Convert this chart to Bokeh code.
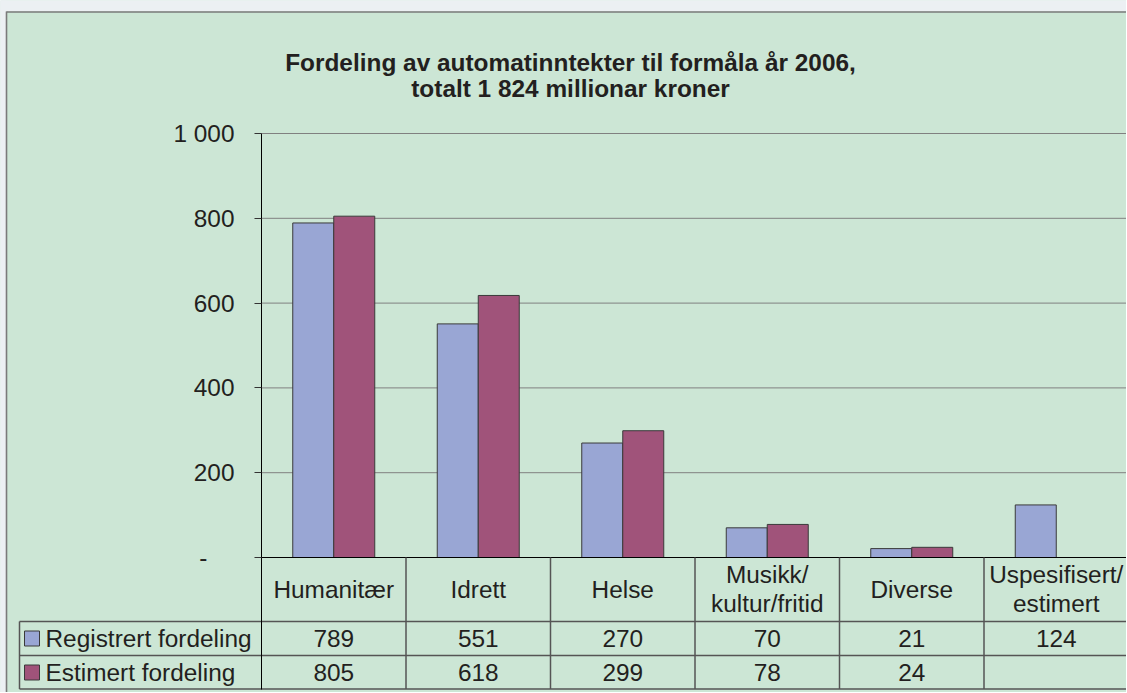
from bokeh.plotting import figure
from bokeh.models import Range1d, FixedTicker, ColumnDataSource
from bokeh.core.properties import value
from bokeh.embed import file_html
from bokeh.resources import INLINE

# ---------------- data ----------------
title_lines = ["Fordeling av automatinntekter til formåla år 2006,",
               "totalt 1 824 millionar kroner"]
categories = ["Humanitær", "Idrett", "Helse", "Musikk/\nkultur/fritid",
              "Diverse", "Uspesifisert/\nestimert"]
series_names = ["Registrert fordeling", "Estimert fordeling"]
registrert = [789, 551, 270, 70, 21, 124]
estimert = [805, 618, 299, 78, 24, None]
y_ticks = [0, 200, 400, 600, 800, 1000]
y_tick_labels = ["-\u2007\u2007", "200", "400", "600", "800", "1 000"]

# ---------------- style ----------------
GREEN = "#CCE6D5"
PAGE = "#ECF0F3"
FRAME = "#7A7A7A"
BLUE = "#99A6D4"
RED = "#A0537A"
TXT = "#231F20"
LINE = "#555555"
FONT = "Liberation Sans"
FS = "24.4px"

PX_X = 144.5      # px per category
PX_Y = 0.424      # px per unit
ZERO = 558        # page y of value zero
AXX = 262         # page x of the value axis
ORG = 1           # page position of the figure origin


def ypx(py):
    return (ZERO - py) / PX_Y


def xpx(px):
    return (px - AXX) / PX_X


W, H = 1127 - ORG, 693 - ORG
p = figure(width=W, height=H,
           x_range=Range1d(xpx(ORG), xpx(1127)),
           y_range=Range1d(ypx(693), ypx(ORG)),
           output_backend="svg", toolbar_location=None,
           x_axis_location=None,
           min_border_left=0, min_border_right=0,
           min_border_top=0, min_border_bottom=0,
           background_fill_color=GREEN, border_fill_color=GREEN,
           outline_line_color=None)

# page strip + outer frame border of the chart box
p.quad(left=[xpx(-5), xpx(-5)], right=[xpx(1140), xpx(7)],
       top=[ypx(-5), ypx(-5)], bottom=[ypx(12), ypx(700)],
       fill_color=PAGE, line_color=None)
p.segment(x0=[xpx(7), xpx(7)], x1=[xpx(1140), xpx(7)],
          y0=[ypx(12.5), ypx(12)], y1=[ypx(12.5), ypx(700)],
          line_color=FRAME, line_width=1.6)

# value axis, drawn at the left edge of the category area
ax = p.yaxis[0]
ax.fixed_location = 0
ax.ticker = FixedTicker(ticks=y_ticks)
ax.major_label_overrides = {t: l for t, l in zip(y_ticks, y_tick_labels)}
ax.bounds = (ypx(690), 1000)
ax.axis_line_color = "black"
ax.axis_line_width = 1
ax.major_tick_out = 7
ax.major_tick_in = 0
ax.minor_tick_out = 0
ax.minor_tick_in = 0
ax.major_tick_line_color = "#333333"
ax.major_label_text_font = FONT
ax.major_label_text_font_size = FS
ax.major_label_text_color = TXT
ax.major_label_standoff = 20

p.xgrid.visible = False
p.ygrid.visible = False

n = len(categories)
right = xpx(1140)

# horizontal gridlines across the category area
gt = y_ticks[1:]
p.segment(x0=[0] * len(gt), x1=[right] * len(gt), y0=gt, y1=gt,
          line_color="#808080", line_width=1)

# bars
bw = 41 / PX_X
src_r = ColumnDataSource(dict(x=[i + 0.5 - bw / 2 for i in range(n)], top=registrert))
est_idx = [i for i in range(n) if estimert[i] is not None]
src_e = ColumnDataSource(dict(x=[i + 0.5 + bw / 2 for i in est_idx],
                              top=[estimert[i] for i in est_idx]))
p.vbar(x="x", top="top", bottom=0, width=bw, source=src_r,
       fill_color=BLUE, line_color="#3A3A3A", line_width=1)
p.vbar(x="x", top="top", bottom=0, width=bw, source=src_e,
       fill_color=RED, line_color="#3A3A3A", line_width=1)

# data table lines
rows_py = [622, 656, 689.5]
p.segment(x0=[xpx(20)] * 3, x1=[right] * 3, y0=[ypx(v) for v in rows_py],
          y1=[ypx(v) for v in rows_py], line_color=LINE, line_width=1.5)
p.segment(x0=[0], x1=[right], y0=[0], y1=[0], line_color="black", line_width=1.2)
p.segment(x0=list(range(1, n)), x1=list(range(1, n)), y0=[0] * (n - 1),
          y1=[ypx(689.5)] * (n - 1), line_color=LINE, line_width=1.5)
p.segment(x0=[xpx(20)], x1=[xpx(20)], y0=[ypx(622)], y1=[ypx(689.5)],
          line_color=LINE, line_width=1.5)

# legend keys inside the table
row_mid = [639, 673]
sw = 15 / 2
p.quad(left=[xpx(25)] * 2, right=[xpx(40)] * 2,
       top=[ypx(m - sw) for m in row_mid], bottom=[ypx(m + sw) for m in row_mid],
       fill_color=[BLUE, RED], line_color="#3A3A3A", line_width=1)
p.text(x=[xpx(46)] * 2, y=[ypx(m) for m in row_mid], text=series_names,
       text_font=value(FONT), text_font_size=FS, text_color=TXT,
       text_align="left", text_baseline="middle")

# category header texts
cx, cy, ct = [], [], []
for i, c in enumerate(categories):
    lines = c.split("\n")
    if len(lines) == 1:
        cx.append(i + 0.5); cy.append(ypx(590)); ct.append(lines[0])
    else:
        for ln, py in zip(lines, (575, 604)):
            cx.append(i + 0.5); cy.append(ypx(py)); ct.append(ln)
p.text(x=cx, y=cy, text=ct, text_font=value(FONT), text_font_size=FS, text_color=TXT,
       text_align="center", text_baseline="middle")

# values rows
vx, vy, vt = [], [], []
for series, pm in ((registrert, 639), (estimert, 673)):
    for i, v in enumerate(series):
        if v is not None:
            vx.append(i + 0.5); vy.append(ypx(pm)); vt.append(str(v))
p.text(x=vx, y=vy, text=vt, text_font=value(FONT), text_font_size=FS, text_color=TXT,
       text_align="center", text_baseline="middle")

# title
p.text(x=[xpx(571)] * 2, y=[ypx(63), ypx(89)], text=title_lines, text_font=value(FONT),
       text_font_size="24.4px", text_font_style="bold", text_color=TXT,
       text_align="center", text_baseline="alphabetic")

open("out.html", "w").write(file_html(p, INLINE))
